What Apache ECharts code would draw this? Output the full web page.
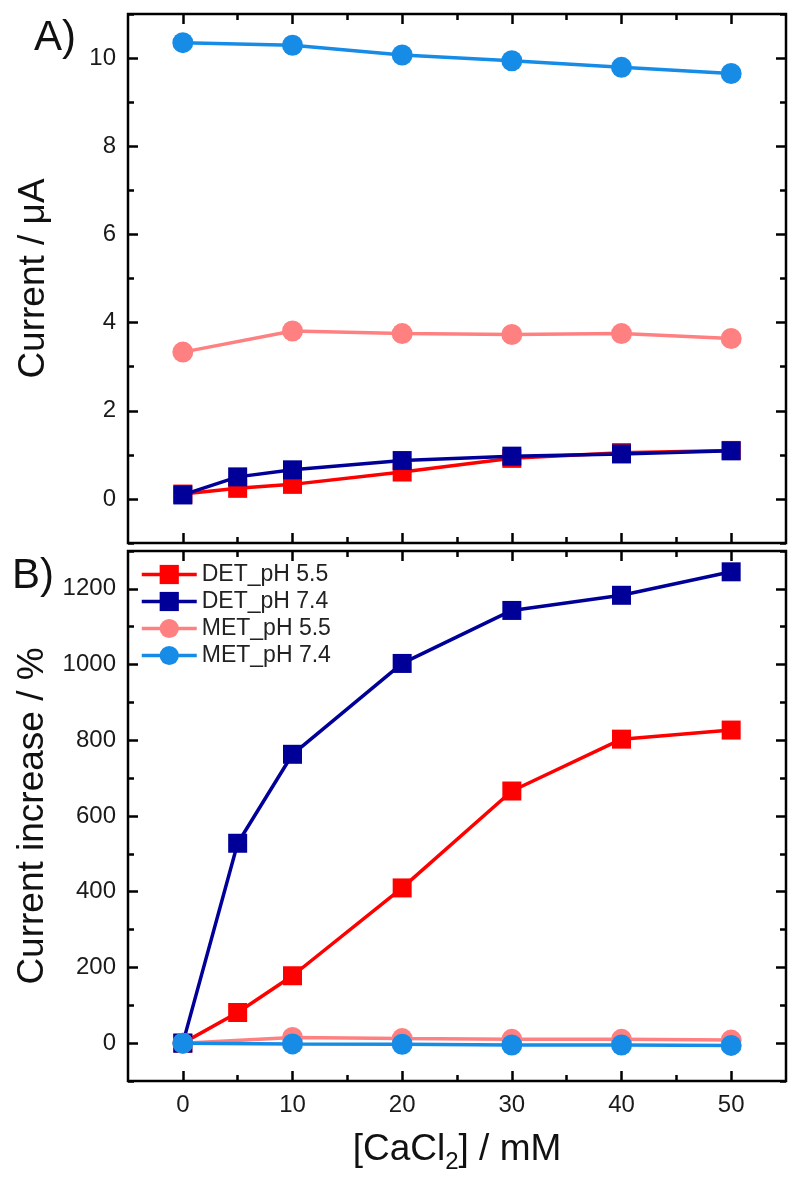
<!DOCTYPE html>
<html>
<head>
<meta charset="utf-8">
<script src="https://cdn.jsdelivr.net/npm/echarts@6/dist/echarts.min.js"></script>
<style>
  html, body { margin: 0; padding: 0; background: #fff; }
  #chart { width: 800px; height: 1182px; }
</style>
</head>
<body>
<div id="chart"></div>
<script>
// concentrations [CaCl2] in mM
const concDET = [0, 5, 10, 20, 30, 40, 50];
const concMET = [0, 10, 20, 30, 40, 50];

// panel A: current / uA
const detPh55A = [0.11, 0.24, 0.33, 0.61, 0.92, 1.05, 1.10];
const detPh74A = [0.09, 0.50, 0.66, 0.87, 0.97, 1.02, 1.09];
const metPh55A = [3.33, 3.81, 3.75, 3.73, 3.75, 3.64];
const metPh74A = [10.35, 10.29, 10.07, 9.94, 9.79, 9.65];

// panel B: current increase / %
const detPh55B = [0, 81, 178, 410, 666, 803, 827];
const detPh74B = [0, 528, 763, 1003, 1143, 1183, 1245];
const metPh55B = [0, 15, 12, 10, 10, 8];
const metPh74B = [0, -2, -3, -5, -5, -6];

// ticks
const xMajor = [0, 10, 20, 30, 40, 50];
const xMinor = [5, 15, 25, 35, 45];
const yMajorA = [0, 2, 4, 6, 8, 10];
const yMinorA = [-1, 1, 3, 5, 7, 9, 11];
const yMajorB = [0, 200, 400, 600, 800, 1000, 1200];
const yMinorB = [-100, 100, 300, 500, 700, 900, 1100, 1300];

const names = ["DET_pH 5.5", "DET_pH 7.4", "MET_pH 5.5", "MET_pH 7.4"];
const colors = ["#ff0000", "#000099", "#ff8080", "#178ce6"];

const FONT = "'Liberation Sans', Arial, sans-serif";
const chart = echarts.init(document.getElementById("chart"));

function tickAxis(gridIndex, position, min, max, values, len, labels) {
  return {
    type: "value",
    gridIndex: gridIndex,
    position: position,
    offset: 0,
    min: min,
    max: max,
    axisLine: { show: false, onZero: false },
    splitLine: { show: false },
    axisTick: {
      show: true,
      inside: true,
      length: len,
      customValues: values,
      lineStyle: { color: "#000", width: 2.5 },
    },
    axisLabel: labels
      ? {
          show: true,
          customValues: values,
          margin: 12,
          color: "#1a1a1a",
          fontSize: 24,
          fontFamily: FONT,
          formatter: (v) => String(v),
        }
      : { show: false },
  };
}

function xAxesFor(gridIndex, showLabels) {
  const main = tickAxis(gridIndex, "bottom", -5, 55, xMajor, 10, showLabels);
  if (showLabels) {
    main.name = "{a|[CaCl}{s|2}{a|] / mM}";
    main.nameLocation = "middle";
    main.nameGap = 47;
    main.nameTextStyle = {
      rich: {
        a: { fontSize: 37, fontFamily: FONT, color: "#111", lineHeight: 44 },
        s: { fontSize: 24, fontFamily: FONT, color: "#111", lineHeight: 44, padding: [24, 0, 0, 0] },
      },
    };
  }
  return [
    main,
    tickAxis(gridIndex, "bottom", -5, 55, xMinor, 6, false),
    tickAxis(gridIndex, "top", -5, 55, xMajor, 10, false),
    tickAxis(gridIndex, "top", -5, 55, xMinor, 6, false),
  ];
}

function yAxesFor(gridIndex, min, max, major, minor, title) {
  const main = tickAxis(gridIndex, "left", min, max, major, 10, true);
  main.name = title;
  main.nameLocation = "middle";
  main.nameGap = 76;
  main.nameTextStyle = { fontSize: 37, fontFamily: FONT, color: "#111" };
  return [
    main,
    tickAxis(gridIndex, "left", min, max, minor, 6, false),
    tickAxis(gridIndex, "right", min, max, major, 10, false),
    tickAxis(gridIndex, "right", min, max, minor, 6, false),
  ];
}

function pairs(xs, ys) {
  return xs.map((x, i) => [x, ys[i]]);
}

function lineSeries(idx, xs, ys, axisIndex) {
  const isDET = idx < 2;
  return {
    name: names[idx],
    type: "line",
    xAxisIndex: axisIndex,
    yAxisIndex: axisIndex,
    data: pairs(xs, ys),
    symbol: isDET ? "rect" : "circle",
    symbolSize: isDET ? 19 : 21,
    showSymbol: true,
    color: colors[idx],
    itemStyle: { color: colors[idx] },
    lineStyle: { color: colors[idx], width: 3.5 },
    z: 2 + idx,
  };
}

const option = {
  animation: false,
  backgroundColor: "#fff",
  grid: [
    { left: 128, right: 14, top: 14, height: 529, show: true, borderColor: "#000", borderWidth: 2.5, backgroundColor: "transparent" },
    { left: 128, right: 14, top: 551, height: 530, show: true, borderColor: "#000", borderWidth: 2.5, backgroundColor: "transparent" },
  ],
  xAxis: [...xAxesFor(0, false), ...xAxesFor(1, true)],
  yAxis: [
    ...yAxesFor(0, -1, 11, yMajorA, yMinorA, "Current / \u03bcA"),
    ...yAxesFor(1, -100, 1300, yMajorB, yMinorB, "Current increase / %"),
  ],
  legend: {
    orient: "vertical",
    left: 140,
    top: 563,
    padding: 0,
    itemWidth: 55,
    itemHeight: 24,
    itemGap: 4,
    data: names,
    lineStyle: { width: 3.5 },
    textStyle: { fontSize: 23, fontFamily: FONT, color: "#222" },
  },
  graphic: [
    { type: "text", left: 34, top: 17, style: { text: "A)", fontSize: 42, fontFamily: FONT, fill: "#111" } },
    { type: "text", left: 12, top: 555, style: { text: "B)", fontSize: 42, fontFamily: FONT, fill: "#111" } },
  ],
  series: [
    lineSeries(0, concDET, detPh55A, 0),
    lineSeries(1, concDET, detPh74A, 0),
    lineSeries(2, concMET, metPh55A, 0),
    lineSeries(3, concMET, metPh74A, 0),
    lineSeries(0, concDET, detPh55B, 4),
    lineSeries(1, concDET, detPh74B, 4),
    lineSeries(2, concMET, metPh55B, 4),
    lineSeries(3, concMET, metPh74B, 4),
  ],
};

chart.setOption(option);
</script>
</body>
</html>
